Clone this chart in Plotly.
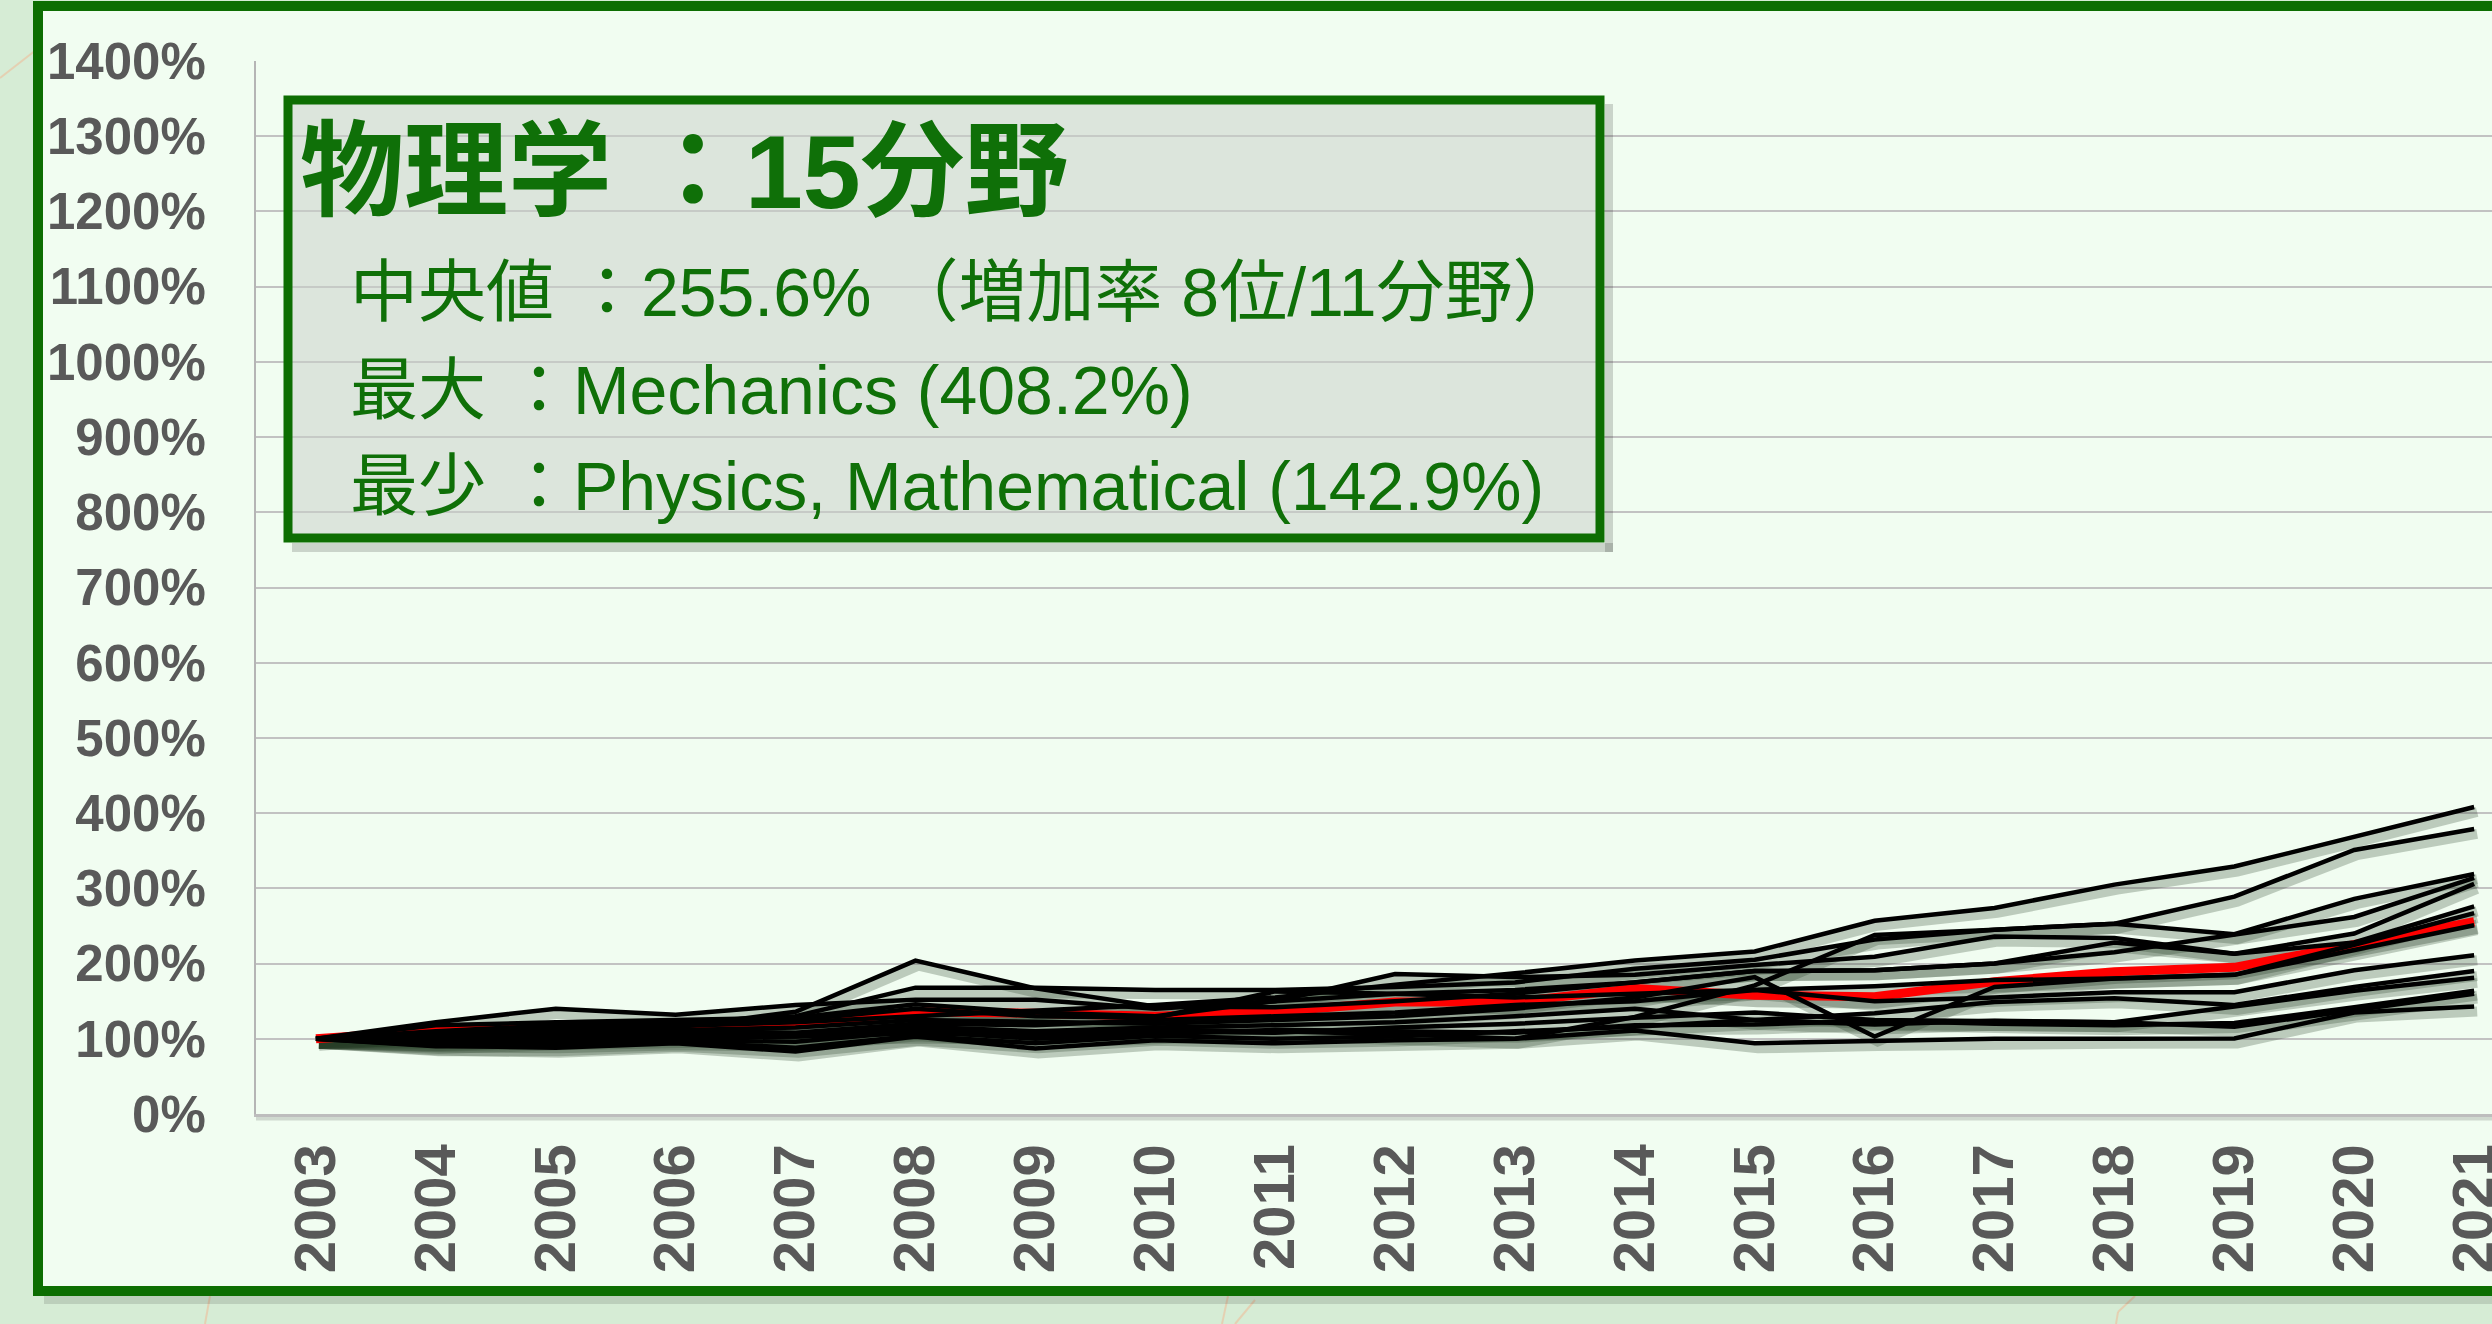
import plotly.graph_objects as go

YEARS = ["2003", "2004", "2005", "2006", "2007", "2008", "2009", "2010", "2011",
         "2012", "2013", "2014", "2015", "2016", "2017", "2018", "2019", "2020", "2021"]

# growth index (%), 2003 = 100
FIELD_01 = [100, 108, 112, 117, 122, 130, 138, 145, 155, 172, 187, 204, 216, 257, 274, 305, 329, 368, 408.2]
FIELD_02 = [100, 96, 100, 104, 103, 112, 108, 112, 110, 106, 100, 129, 171, 238, 245, 253, 289, 351, 379]
FIELD_03 = [100, 110, 118, 122, 130, 168, 168, 165, 165, 169, 175, 193, 205, 232, 245, 253, 239, 286, 319]
FIELD_04 = [100, 104, 110, 115, 136, 204, 167, 143, 142, 150, 160, 175, 190, 191, 200, 215, 238, 262, 314]
FIELD_05 = [100, 122, 140, 132, 145, 152, 152, 140, 150, 186, 182, 185, 198, 209, 236, 234, 213, 240, 306]
FIELD_06 = [100, 118, 122, 125, 128, 146, 135, 130, 150, 160, 165, 175, 190, 191, 200, 228, 213, 228, 276]
FIELD_07 = [100, 105, 115, 120, 125, 140, 130, 128, 163, 160, 155, 160, 165, 170, 178, 180, 185, 225, 267]
FIELD_08 = [100, 102, 108, 112, 115, 125, 122, 120, 125, 130, 140, 155, 182, 103, 169, 180, 185, 218, 251]
FIELD_09 = [100, 100, 104, 110, 108, 120, 118, 125, 130, 135, 145, 150, 165, 150, 155, 162, 162, 191, 211]
FIELD_10 = [100, 97, 102, 105, 104, 116, 110, 115, 118, 122, 130, 140, 125, 134, 149, 154, 145, 169, 190]
FIELD_11 = [100, 93, 98, 100, 103, 107, 105, 110, 108, 115, 120, 128, 135, 125, 124, 122, 143, 164, 181]
FIELD_12 = [100, 95, 94, 98, 96, 110, 100, 106, 112, 110, 108, 118, 119, 124, 120, 118, 121, 142, 164]
FIELD_13 = [100, 90, 90, 96, 88, 104, 94, 104, 100, 103, 110, 116, 125, 119, 124, 122, 116, 138, 160]
FIELD_14 = [100, 91, 88, 94, 83, 103, 87, 98, 94, 98, 100, 111, 94, 97, 100, 100, 100.5, 135, 142.9]
MEDIAN_FIELD = [100, 111, 114, 118, 119, 136, 134, 130, 136, 149, 149, 167, 158, 156, 176, 189, 195, 224, 255.6]

BLACK_FIELDS = [FIELD_01, FIELD_02, FIELD_03, FIELD_04, FIELD_05, FIELD_06, FIELD_07,
                FIELD_08, FIELD_09, FIELD_10, FIELD_11, FIELD_12, FIELD_13, FIELD_14]

Y_TICKS = [0, 100, 200, 300, 400, 500, 600, 700, 800, 900, 1000, 1100, 1200, 1300, 1400]

TITLE = "<b>物理学 ：15分野</b>"
LINE_MEDIAN = "中央値 ：255.6% （増加率 8位/11分野）"
LINE_MAX = "最大 ：Mechanics (408.2%)"
LINE_MIN = "最少 ：Physics, Mathematical (142.9%)"

W, H = 2492, 1324
GREEN = "#0d6e02"
TEXT_GREEN = "#0f7008"
OUTER_BG = "#d6ecd5"
PANEL_BG = "#f1fdf1"
TICK_GRAY = "#595959"
TICK_FONT = "Liberation Sans, Arial, sans-serif"
BOX_FONT = "Liberation Sans, Noto Sans CJK JP, sans-serif"

PLOT_L, PLOT_T, PLOT_B = 256, 61, 1114
CAT_PX = 119.9
X_RANGE = [-0.5, -0.5 + (W - PLOT_L) / CAT_PX]
Y_RANGE = [0, 1400]
px_per_pct = (PLOT_B - PLOT_T) / (Y_RANGE[1] - Y_RANGE[0])
SH_DX, SH_DY = 3, 5  # shadow offset in px


def fx(x):
    return x / W


def fy(y):
    return 1 - y / H


fig = go.Figure()

# shadows on base axes (shifted range), real lines on overlay axes
for vals in BLACK_FIELDS:
    fig.add_trace(go.Scatter(x=YEARS, y=vals, mode="lines", xaxis="x", yaxis="y",
                             line=dict(color="rgba(40,60,40,0.26)", width=10),
                             hoverinfo="skip", showlegend=False))
fig.add_trace(go.Scatter(x=YEARS, y=MEDIAN_FIELD, mode="lines", xaxis="x", yaxis="y",
                         line=dict(color="rgba(40,60,40,0.3)", width=14),
                         hoverinfo="skip", showlegend=False))

fig.add_trace(go.Scatter(x=YEARS, y=MEDIAN_FIELD, mode="lines", xaxis="x2", yaxis="y2",
                         line=dict(color="#ff0000", width=9), showlegend=False))
for vals in BLACK_FIELDS:
    fig.add_trace(go.Scatter(x=YEARS, y=vals, mode="lines", xaxis="x2", yaxis="y2",
                             line=dict(color="#000000", width=4.5), showlegend=False))

dom_x = [fx(PLOT_L), 1]
dom_y = [fy(PLOT_B), fy(PLOT_T)]
dxc = SH_DX / CAT_PX
dyp = SH_DY / px_per_pct

fig.update_layout(
    width=W,
    height=H,
    margin=dict(l=0, r=0, t=0, b=0, autoexpand=False),
    paper_bgcolor=OUTER_BG,
    plot_bgcolor="rgba(0,0,0,0)",
    showlegend=False,
    xaxis=dict(domain=dom_x, type="category", range=[X_RANGE[0] - dxc, X_RANGE[1] - dxc],
               visible=False, fixedrange=True, automargin=False),
    yaxis=dict(domain=dom_y, range=[Y_RANGE[0] + dyp, Y_RANGE[1] + dyp],
               visible=False, fixedrange=True, automargin=False),
    xaxis2=dict(overlaying="x", anchor="y2", type="category", range=X_RANGE,
                showgrid=False, showline=True, linecolor="#bdbdbd", linewidth=3,
                tickangle=-90, ticks="", ticklabelstandoff=4, automargin=False,
                tickfont=dict(family=TICK_FONT, size=58, color=TICK_GRAY, weight="bold")),
    yaxis2=dict(overlaying="y", anchor="x2", range=Y_RANGE, tickvals=Y_TICKS,
                ticktext=[f"{v}%" for v in Y_TICKS],
                showgrid=True, gridcolor="#c2c2c2", gridwidth=2,
                showline=True, linecolor="#b5b5b5", linewidth=2, zeroline=False,
                ticks="", ticklabelstandoff=38, automargin=False,
                tickfont=dict(family=TICK_FONT, size=51, color=TICK_GRAY, weight="bold")),
)

shapes = []
# faint decorative background strokes
for x0, y0, x1, y1 in [(0, 78, 36, 50), (210, 1296, 205, 1324), (1228, 1296, 1222, 1324),
                       (1255, 1300, 1235, 1324), (2135, 1296, 2118, 1312), (2118, 1312, 2116, 1324)]:
    shapes.append(dict(type="line", xref="paper", yref="paper", x0=fx(x0), y0=fy(y0),
                       x1=fx(x1), y1=fy(y1), line=dict(color="rgba(240,185,150,0.55)", width=2),
                       layer="below"))
# panel shadow + panel
shapes.append(dict(type="rect", xref="paper", yref="paper", x0=fx(44), x1=fx(W + 60),
                   y0=fy(1304), y1=fy(1290), fillcolor="rgba(0,0,0,0.12)", line_width=0,
                   layer="below"))
shapes.append(dict(type="rect", xref="paper", yref="paper", x0=fx(38), x1=fx(W + 60),
                   y0=fy(1291), y1=fy(6), fillcolor=PANEL_BG,
                   line=dict(color=GREEN, width=10), layer="below"))
# bottom axis shadow
shapes.append(dict(type="line", xref="paper", yref="paper", x0=fx(PLOT_L), x1=1,
                   y0=fy(PLOT_B + 4), y1=fy(PLOT_B + 4),
                   line=dict(color="rgba(0,0,0,0.14)", width=5), layer="below"))
# text box shadow strips
shapes.append(dict(type="rect", xref="paper", yref="paper", x0=fx(292), x1=fx(1613),
                   y0=fy(552), y1=fy(543), fillcolor="rgba(0,0,0,0.16)", line_width=0))
shapes.append(dict(type="rect", xref="paper", yref="paper", x0=fx(1605), x1=fx(1613),
                   y0=fy(552), y1=fy(104), fillcolor="rgba(0,0,0,0.16)", line_width=0))
# text box
shapes.append(dict(type="rect", xref="paper", yref="paper", x0=fx(288), x1=fx(1600),
                   y0=fy(538), y1=fy(100), fillcolor="rgba(203,210,203,0.55)",
                   line=dict(color=GREEN, width=9)))
fig.update_layout(shapes=shapes)

texts = [
    (TITLE, 298, 172, 104),
    (LINE_MEDIAN, 348, 292, 68),
    (LINE_MAX, 348, 390, 68),
    (LINE_MIN, 348, 486, 68),
]
for txt, x, y, size in texts:
    fig.add_annotation(text=txt, xref="paper", yref="paper", x=fx(x), y=fy(y),
                       xanchor="left", yanchor="middle", showarrow=False,
                       font=dict(family=BOX_FONT, size=size, color=TEXT_GREEN))

# drop the default page margin so the figure fills the window exactly
fig.write_html("out.html", config={"displayModeBar": False},
               post_script="document.body.style.margin='0';")
